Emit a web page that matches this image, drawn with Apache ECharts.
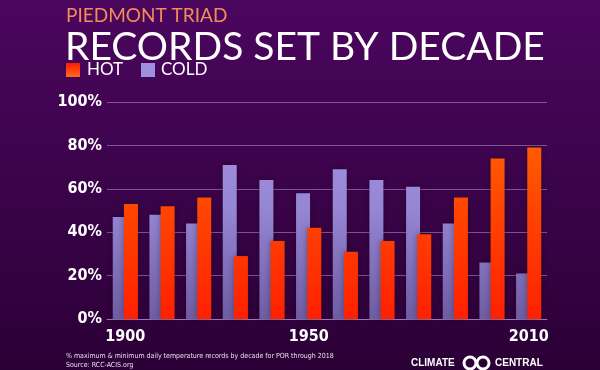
<!DOCTYPE html>
<html><head><meta charset="utf-8">
<script src="https://cdn.jsdelivr.net/npm/echarts@6/dist/echarts.min.js"></script>
<style>html,body{margin:0;padding:0;background:#3a0548}#c{width:600px;height:370px}</style>
</head><body><div id="c"></div>
<script>
const decades = ['1900','1910','1920','1930','1940','1950','1960','1970','1980','1990','2000','2010'];
const coldPct = [47, 48, 44, 71, 64, 58, 69, 64, 61, 44, 26, 21];
const hotPct  = [53, 52, 56, 29, 36, 42, 31, 36, 39, 56, 74, 79];
const shownYears = ['1900','1950','2010'];
const yTicks = [0, 20, 40, 60, 80, 100];

const chart = echarts.init(document.getElementById('c'), null, {renderer:'canvas'});
const LG = echarts.graphic.LinearGradient;
const numFont = '"DejaVu Sans Condensed","DejaVu Sans",sans-serif';
chart.setOption({
  backgroundColor: new LG(0,0,0,1,[{offset:0,color:'#4b065e'},{offset:1,color:'#2b0036'}]),
  animation:false,
  grid:{left:107,right:53,top:102,bottom:51},
  xAxis:{type:'category',data:decades,
    axisLine:{show:true,lineStyle:{color:'rgba(190,150,210,0.55)',width:1}},
    axisTick:{show:false},
    axisLabel:{interval:(i,v)=>shownYears.includes(v),color:'#fff',fontFamily:numFont,fontWeight:'bold',fontSize:16,margin:10}},
  yAxis:{type:'value',min:yTicks[0],max:yTicks[yTicks.length-1],interval:20,
    axisLine:{show:false},axisTick:{show:false},
    splitLine:{lineStyle:{color:'rgba(190,150,210,0.55)',width:1}},
    axisLabel:{formatter:'{value}%',color:'#fff',fontFamily:numFont,fontWeight:'bold',fontSize:16,margin:5}},
  series:[
    {name:'COLD',type:'bar',data:coldPct,barWidth:14,barGap:'-20%',
      itemStyle:{color:new LG(0,102,0,319,[{offset:0,color:'#a595e6'},{offset:0.5,color:'#9585d3'},{offset:1,color:'#6e5ca3'}],true),
        shadowBlur:6,shadowColor:'rgba(0,0,0,0.35)'}},
    {name:'HOT',type:'bar',data:hotPct,barWidth:14,
      itemStyle:{color:new LG(0,102,0,319,[{offset:0,color:'#ff6a00'},{offset:1,color:'#ff2000'}],true),
        shadowBlur:6,shadowColor:'rgba(0,0,0,0.35)'}}
  ],
  graphic:[
    {type:'text',left:66,top:6,style:{text:'PIEDMONT TRIAD',fill:'#f28c58',font:'19px Lato'}},
    {type:'text',left:65,top:28,style:{text:'RECORDS SET BY DECADE',fill:'#fff',font:'39px Lato'}},
    {type:'rect',shape:{x:66,y:63,width:14,height:14},style:{fill:new LG(0,0,0,1,[{offset:0,color:'#ff1a00'},{offset:1,color:'#ff6a20'}])}},
    {type:'text',left:87,top:61,style:{text:'HOT',fill:'#fff',font:'17px Lato'}},
    {type:'rect',shape:{x:141,y:63,width:14,height:14},style:{fill:'#9f8fe0'}},
    {type:'text',left:161,top:61,style:{text:'COLD',fill:'#fff',font:'17px Lato'}},
    {type:'text',left:66,top:352,style:{text:'% maximum & minimum daily temperature records by decade for POR through 2018\nSource: RCC-ACIS.org',fill:'#e8e0ee',font:'7px "DejaVu Sans Condensed", sans-serif',lineHeight:9}},
    {type:'text',left:411,top:358,style:{text:'CLIMATE',fill:'#fff',font:'bold 10px "Liberation Sans", sans-serif'}},
    {type:'circle',shape:{cx:470,cy:363,r:6},style:{fill:'none',stroke:'#fff',lineWidth:3}},
    {type:'circle',shape:{cx:483,cy:363,r:6},style:{fill:'none',stroke:'#fff',lineWidth:3}},
    {type:'text',left:495,top:358,style:{text:'CENTRAL',fill:'#fff',font:'bold 10px "Liberation Sans", sans-serif'}}
  ]
});
</script></body></html>
